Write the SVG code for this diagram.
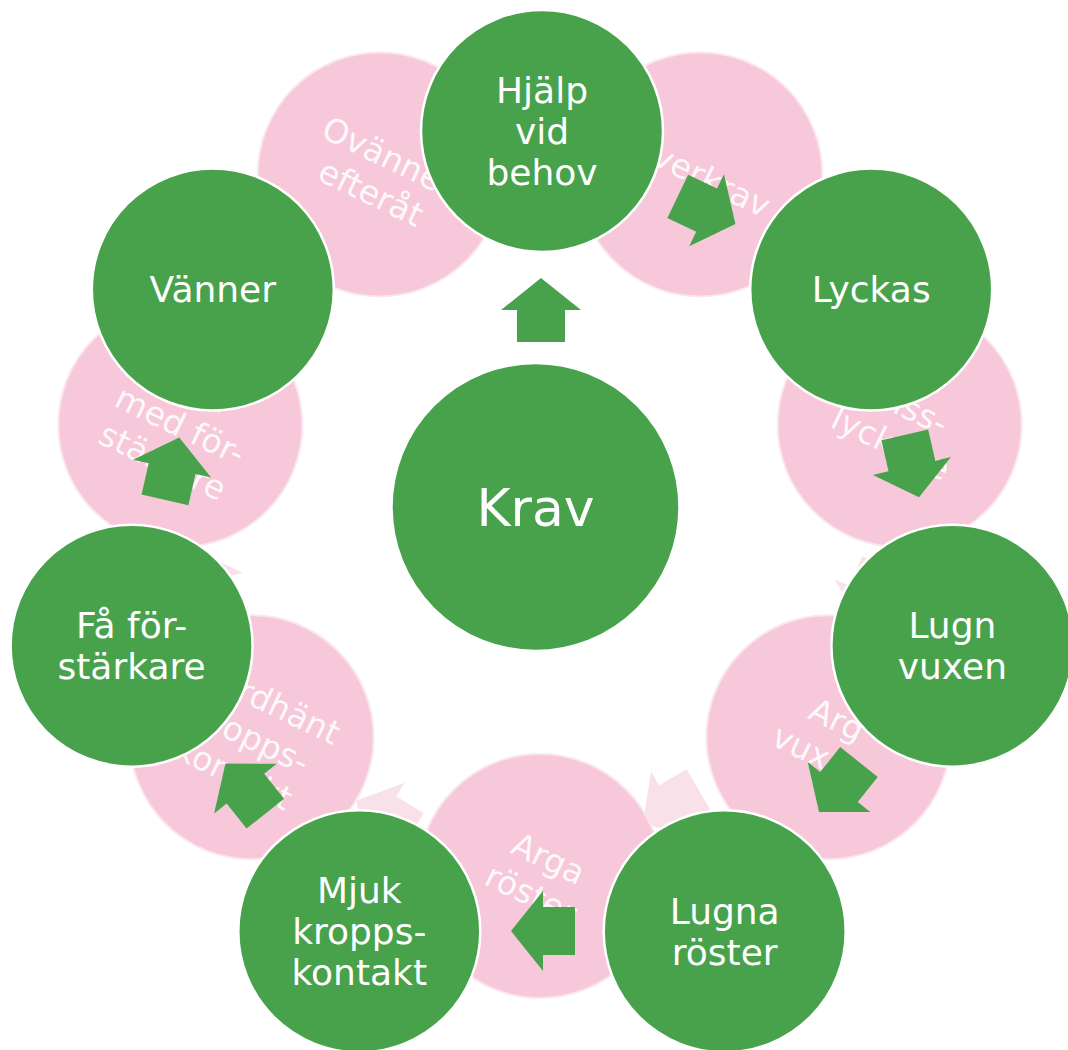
<svg xmlns="http://www.w3.org/2000/svg" xmlns:xlink="http://www.w3.org/1999/xlink" width="1068" height="1050" viewBox="0 0 1068 1050">
<style>
.pk{fill:#F6C8D9;stroke:#FBE6EE;stroke-width:2}
.pa{fill:#F9E1E9}
.ga{fill:#48A24C}
.gn{fill:#48A24C;stroke:#FFFFFF;stroke-width:2.5}
.gt{fill:#FFFFFF;font-family:"DejaVu Sans","Liberation Sans",sans-serif;font-size:36px;text-anchor:middle}
.kt{font-size:52px}
.pt{fill:#FFFFFF;fill-opacity:0.88;font-family:"DejaVu Sans","Liberation Sans",sans-serif;font-size:33px;text-anchor:middle}
</style>
<defs>
<path id="arr" d="M-32,-24 H0 V-40 L32,0 L0,40 V24 H-32 Z"/>
</defs>
<rect width="1068" height="1050" fill="#FFFFFF"/>
<g id="pink-connectors">
<use xlink:href="#arr" class="pa" transform="translate(540,172) rotate(0)"/>
<use xlink:href="#arr" class="pa" transform="translate(802,298) rotate(51.4)"/>
<use xlink:href="#arr" class="pa" transform="translate(872,595) rotate(112.6)"/>
<use xlink:href="#arr" class="pa" transform="translate(671,806) rotate(150)"/>
<use xlink:href="#arr" class="pa" transform="translate(384,817) rotate(211)"/>
<use xlink:href="#arr" class="pa" transform="translate(204,582) rotate(257)"/>
<use xlink:href="#arr" class="pa" transform="translate(278,298) rotate(308.6)"/>
</g>
<g id="p-ovanner">
<circle class="pk" cx="379.8" cy="174.4" r="122"/>
<text class="pt" transform="translate(379.8,174.4) rotate(25.7)"><tspan x="0" y="-8">Ovänner</tspan><tspan x="0" y="32">efteråt</tspan></text>
</g>
<g id="p-overkrav">
<circle class="pk" cx="700.2" cy="174.4" r="122"/>
<text class="pt" transform="translate(700.2,174.4) rotate(25.7)"><tspan x="0" y="12">Överkrav</tspan></text>
</g>
<g id="p-misslyckade">
<circle class="pk" cx="899.7" cy="424.9" r="122"/>
<text class="pt" transform="translate(899.7,424.9) rotate(25.7)"><tspan x="0" y="-8">Miss-</tspan><tspan x="0" y="32">lyckade</tspan></text>
</g>
<g id="p-argvuxen">
<circle class="pk" cx="828.4" cy="737.2" r="122"/>
<text class="pt" transform="translate(828.4,737.2) rotate(25.7)"><tspan x="0" y="-8">Arg</tspan><tspan x="0" y="32">vuxen</tspan></text>
</g>
<g id="p-argaroster">
<circle class="pk" cx="540" cy="876" r="122"/>
<text class="pt" transform="translate(540,876) rotate(25.7)"><tspan x="0" y="-8">Arga</tspan><tspan x="0" y="32">röster</tspan></text>
</g>
<g id="p-hardhant">
<circle class="pk" cx="251.6" cy="737.2" r="122"/>
<text class="pt" transform="translate(251.6,737.2) rotate(25.7)"><tspan x="0" y="-28">Hårdhänt</tspan><tspan x="0" y="12">kropps-</tspan><tspan x="0" y="52">kontakt</tspan></text>
</g>
<g id="p-medforstarkare">
<circle class="pk" cx="180.3" cy="424.9" r="122"/>
<text class="pt" transform="translate(180.3,424.9) rotate(25.7)"><tspan x="0" y="-28">Krav</tspan><tspan x="0" y="12">med för-</tspan><tspan x="0" y="52">stärkare</tspan></text>
</g>
<g id="connectors">
<use xlink:href="#arr" class="ga" transform="translate(541,310) rotate(-90)"/>
<use xlink:href="#arr" class="ga" transform="translate(706.6,210.2) rotate(25.7)"/>
<use xlink:href="#arr" class="ga" transform="translate(911.9,466) rotate(77.14)"/>
<use xlink:href="#arr" class="ga" transform="translate(839,787) rotate(128.57)"/>
<use xlink:href="#arr" class="ga" transform="translate(543,931) rotate(180)"/>
<use xlink:href="#arr" class="ga" transform="translate(245.4,788.6) rotate(231.43)"/>
<use xlink:href="#arr" class="ga" transform="translate(172.1,468.6) rotate(282.86)"/>
</g>
<g id="krav">
<circle class="gn" cx="535.5" cy="507" r="144"/>
<text class="gt kt" x="535.5" y="526">Krav</text>
</g>
<g id="hjalp">
<circle class="gn" cx="542" cy="131" r="121"/>
<text class="gt"><tspan x="542" y="103">Hjälp</tspan><tspan x="542" y="144">vid</tspan><tspan x="542" y="185">behov</tspan></text>
</g>
<g id="lyckas">
<circle class="gn" cx="871.2" cy="289.5" r="121"/>
<text class="gt" x="871.2" y="302">Lyckas</text>
</g>
<g id="lugnvuxen">
<circle class="gn" cx="952.4" cy="645.7" r="121"/>
<text class="gt"><tspan x="952.4" y="638">Lugn</tspan><tspan x="952.4" y="679">vuxen</tspan></text>
</g>
<g id="lugnaroster">
<circle class="gn" cx="724.7" cy="931.3" r="121"/>
<text class="gt"><tspan x="724.7" y="924">Lugna</tspan><tspan x="724.7" y="965">röster</tspan></text>
</g>
<g id="mjuk">
<circle class="gn" cx="359.3" cy="931.3" r="121"/>
<text class="gt"><tspan x="359.3" y="903">Mjuk</tspan><tspan x="359.3" y="944">kropps-</tspan><tspan x="359.3" y="985">kontakt</tspan></text>
</g>
<g id="faforstarkare">
<circle class="gn" cx="131.6" cy="645.7" r="121"/>
<text class="gt"><tspan x="131.6" y="638">Få för-</tspan><tspan x="131.6" y="679">stärkare</tspan></text>
</g>
<g id="vanner">
<circle class="gn" cx="212.8" cy="289.5" r="121"/>
<text class="gt" x="212.8" y="302">Vänner</text>
</g>
</svg>
